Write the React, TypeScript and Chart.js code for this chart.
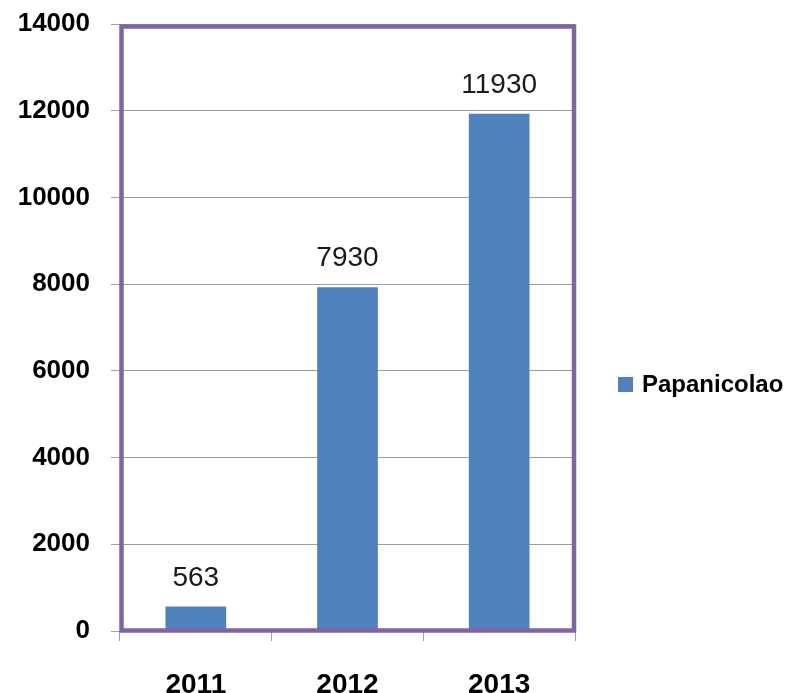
import React, { useEffect, useRef } from "react";
import { Chart, registerables } from "chart.js";

Chart.register(...registerables);

const categories = ["2011", "2012", "2013"];
const seriesName = "Papanicolao";
const values = [563, 7930, 11930];
const yTicks = [0, 2000, 4000, 6000, 8000, 10000, 12000, 14000];

const BAR_COLOR = "#4F81BD";
const BORDER_COLOR = "#8064A2";
const GRID_COLOR = "#A0A0A0";
const FONT = "'Liberation Sans', Arial, sans-serif";

const extrasPlugin = {
  id: "extras",
  afterDatasetsDraw(chart: any) {
    const { ctx, chartArea } = chart;
    const { left, right, top, bottom } = chartArea;
    ctx.save();
    // data labels
    const meta = chart.getDatasetMeta(0);
    ctx.font = `28px ${FONT}`;
    ctx.fillStyle = "#1a1a1a";
    ctx.textAlign = "center";
    ctx.textBaseline = "alphabetic";
    meta.data.forEach((bar: any, i: number) => {
      ctx.fillText(String(values[i]), bar.x, bar.y - 21);
    });
    // plot border
    ctx.strokeStyle = BORDER_COLOR;
    ctx.lineWidth = 4.5;
    ctx.strokeRect(left + 1.5, top + 2.5, right - left - 2.5, bottom - top - 3);
    // legend
    const lx = right + 43;
    const ly = 377;
    ctx.fillStyle = BAR_COLOR;
    ctx.fillRect(lx, ly, 15, 15);
    ctx.fillStyle = "#000";
    ctx.font = `bold 24px ${FONT}`;
    ctx.textAlign = "left";
    ctx.textBaseline = "middle";
    ctx.fillText(seriesName, lx + 24, ly + 8);
    ctx.restore();
  },
};

export default function App() {
  const ref = useRef<HTMLCanvasElement>(null);
  useEffect(() => {
    document.body.style.margin = "0";
    const chart = new Chart(ref.current!, {
      type: "bar",
      data: {
        labels: categories,
        datasets: [
          {
            label: seriesName,
            data: values,
            backgroundColor: BAR_COLOR,
            barPercentage: 0.8,
            categoryPercentage: 0.5,
          },
        ],
      },
      options: {
        animation: false,
        responsive: false,
        devicePixelRatio: 1,
        layout: { padding: { top: 24, right: 213, left: 0, bottom: 0 } },
        plugins: { legend: { display: false }, tooltip: { enabled: false } },
        scales: {
          x: {
            grid: {
              offset: true,
              drawOnChartArea: false,
              color: GRID_COLOR,
              tickLength: 10,
            },
            border: { display: false },
            ticks: {
              font: { family: FONT, size: 28, weight: "bold" },
              color: "#000",
              padding: 27,
            },
            afterFit(scale: any) {
              scale.height = 62;
              scale.paddingLeft = 0;
              scale.paddingRight = 0;
            },
          },
          y: {
            min: 0,
            max: 14000,
            afterBuildTicks(scale: any) {
              scale.ticks = yTicks.map((v) => ({ value: v }));
            },
            grid: { color: GRID_COLOR, tickLength: 9 },
            border: { color: GRID_COLOR },
            ticks: {
              font: { family: FONT, size: 26, weight: "bold" },
              color: "#000",
              padding: 21,
              callback: (v: any) => String(v),
            },
            afterFit(scale: any) {
              scale.width = 120;
              scale.paddingTop = 0;
              scale.paddingBottom = 0;
            },
          },
        },
      },
      plugins: [extrasPlugin],
    });
    return () => chart.destroy();
  }, []);
  return <canvas ref={ref} width={788} height={693} style={{ display: "block" }} />;
}
